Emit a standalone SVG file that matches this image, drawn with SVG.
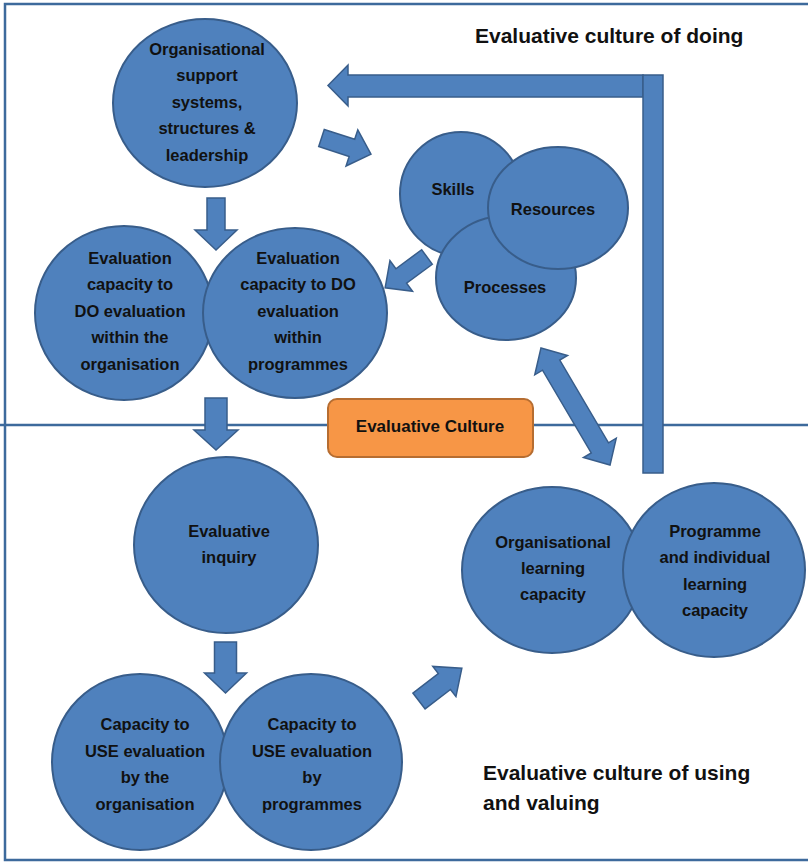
<svg xmlns="http://www.w3.org/2000/svg" width="808" height="864" viewBox="0 0 808 864">
<defs>
<style>
.frame{fill:none;stroke:#3D6A9C;stroke-width:2.5}
.c{fill:#4F81BD;stroke:#385D8A;stroke-width:2}
.a{fill:#4F81BD;stroke:#385D8A;stroke-width:1.5;stroke-linejoin:miter}
.t{font-family:"Liberation Sans",Arial,sans-serif;font-weight:bold;font-size:16.5px;fill:#111;text-anchor:middle}
.h{font-family:"Liberation Sans",Arial,sans-serif;font-weight:bold;font-size:21px;fill:#111}
.box{fill:#F79646;stroke:#B66D31;stroke-width:2}
</style>
</defs>
<rect width="808" height="864" fill="#fff"/>
<g id="frame">
<path class="frame" d="M808,4 H5 V860 H808"/>
<line class="frame" x1="0" y1="425" x2="808" y2="425"/>
</g>
<g id="titles">
<text class="h" x="475" y="43">Evaluative culture of doing</text>
<text class="h" x="483" y="780">Evaluative culture of using</text>
<text class="h" x="483" y="810">and valuing</text>
</g>
<g id="n-support">
<ellipse class="c" cx="205" cy="103" rx="92" ry="84"/>
<text class="t" x="207" y="54.5">Organisational</text>
<text class="t" x="207" y="81">support</text>
<text class="t" x="207" y="107.5">systems,</text>
<text class="t" x="207" y="134">structures &amp;</text>
<text class="t" x="207" y="160.5">leadership</text>
</g>
<g id="n-skills">
<ellipse class="c" cx="461" cy="194" rx="61" ry="62"/>
<text class="t" x="453" y="195">Skills</text>
</g>
<g id="n-processes">
<ellipse class="c" cx="506" cy="278" rx="70" ry="62"/>
<text class="t" x="505" y="293">Processes</text>
</g>
<g id="n-resources">
<ellipse class="c" cx="558" cy="208" rx="70" ry="61"/>
<text class="t" x="553" y="215">Resources</text>
</g>
<g id="n-do-org">
<ellipse class="c" cx="124" cy="313" rx="89" ry="87"/>
<text class="t" x="130" y="263.5">Evaluation</text>
<text class="t" x="130" y="290">capacity to</text>
<text class="t" x="130" y="316.5">DO evaluation</text>
<text class="t" x="130" y="343">within the</text>
<text class="t" x="130" y="369.5">organisation</text>
</g>
<g id="n-do-prog">
<ellipse class="c" cx="295" cy="313" rx="92" ry="85"/>
<text class="t" x="298" y="263.5">Evaluation</text>
<text class="t" x="298" y="290">capacity to DO</text>
<text class="t" x="298" y="316.5">evaluation</text>
<text class="t" x="298" y="343">within</text>
<text class="t" x="298" y="369.5">programmes</text>
</g>
<g id="n-culture">
<rect class="box" x="328" y="399" width="205" height="58" rx="9"/>
<text class="t" x="430" y="432" style="font-size:17px">Evaluative Culture</text>
</g>
<g id="n-inquiry">
<ellipse class="c" cx="226" cy="545" rx="92" ry="88"/>
<text class="t" x="229" y="537">Evaluative</text>
<text class="t" x="229" y="563">inquiry</text>
</g>
<g id="n-use-org">
<ellipse class="c" cx="140" cy="762" rx="88" ry="88"/>
<text class="t" x="145" y="730">Capacity to</text>
<text class="t" x="145" y="756.5">USE evaluation</text>
<text class="t" x="145" y="783">by the</text>
<text class="t" x="145" y="809.5">organisation</text>
</g>
<g id="n-use-prog">
<ellipse class="c" cx="311" cy="762" rx="91" ry="88"/>
<text class="t" x="312" y="730">Capacity to</text>
<text class="t" x="312" y="756.5">USE evaluation</text>
<text class="t" x="312" y="783">by</text>
<text class="t" x="312" y="809.5">programmes</text>
</g>
<g id="n-org-learning">
<ellipse class="c" cx="552" cy="570" rx="90" ry="83"/>
<text class="t" x="553" y="548">Organisational</text>
<text class="t" x="553" y="574">learning</text>
<text class="t" x="553" y="600">capacity</text>
</g>
<g id="n-prog-learning">
<ellipse class="c" cx="714" cy="570" rx="91" ry="87"/>
<text class="t" x="715" y="537">Programme</text>
<text class="t" x="715" y="563">and individual</text>
<text class="t" x="715" y="589.5">learning</text>
<text class="t" x="715" y="616">capacity</text>
</g>
<g id="connectors">
<polygon class="a" transform="translate(321.5,138) rotate(18)" points="0,-9 32,-9 32,-19 52,0 32,19 32,9 0,9"/>
<polygon class="a" transform="translate(216,198) rotate(90)" points="0,-9 32,-9 32,-21 52,0 32,21 32,9 0,9"/>
<polygon class="a" transform="translate(427,257) rotate(143.6)" points="0,-9 32,-9 32,-19 52,0 32,19 32,9 0,9"/>
<polygon class="a" transform="translate(216,398) rotate(90)" points="0,-11 32,-11 32,-22 52,0 32,22 32,11 0,11"/>
<polygon class="a" transform="translate(225.5,642) rotate(90)" points="0,-11 31,-11 31,-21 51,0 31,21 31,11 0,11"/>
<polygon class="a" transform="translate(419,701) rotate(-37.5)" points="0,-10 32,-10 32,-19 54,0 32,19 32,10 0,10"/>
<polygon class="a" points="643,75 348,75 348,65 328,85.5 348,106 348,97 643,97"/>
<rect class="a" x="643" y="75" width="20" height="398"/>
<polygon class="a" transform="translate(575.5,406.5) rotate(59.5)" points="-68,0 -48,-19 -48,-10 48,-10 48,-19 68,0 48,19 48,10 -48,10 -48,19"/>
</g>
</svg>
